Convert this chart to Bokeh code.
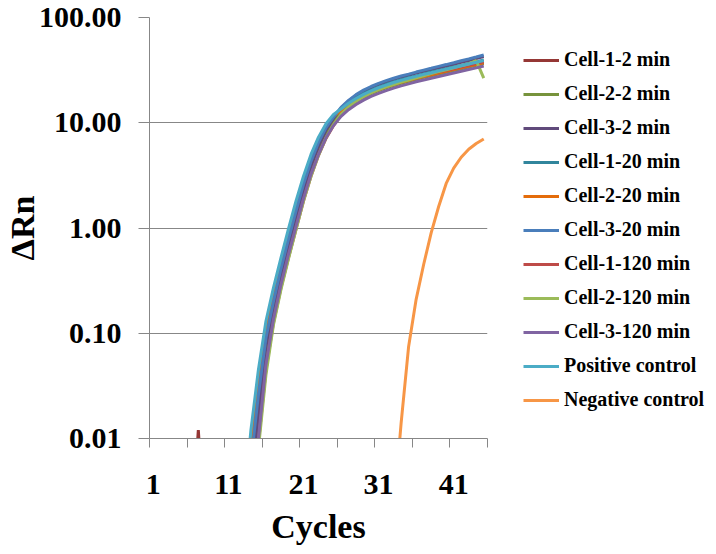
from bokeh.plotting import figure
from bokeh.models import (ColumnDataSource, Legend, LegendItem, FixedTicker,
                          PrintfTickFormatter, Range1d)
from bokeh.embed import file_html
from bokeh.resources import INLINE

N = None
cycles = list(range(1, 46))

series_names = ["Cell-1-2 min", "Cell-2-2 min", "Cell-3-2 min", "Cell-1-20 min",
                "Cell-2-20 min", "Cell-3-20 min", "Cell-1-120 min", "Cell-2-120 min",
                "Cell-3-120 min", "Positive control", "Negative control"]
series_colors = ["#953735", "#77933C", "#604A7B", "#31859C", "#E46C0A", "#4A7EBB",
                 "#BE4B48", "#9BBB59", "#8064A2", "#4BACC6", "#F79646"]

# values for cycles 1..45 (None = below the visible axis range)
cell_1_2 = [N, N, N, N, N, 0.001, 0.012, 0.001, N, N, N, N, N, 0.003, 0.011, 0.058, 0.15, 0.31, 0.6, 1.1,
            2.05, 3.5, 5.4, 7.7, 10.0, 12.4, 14.4, 16.2, 17.8, 19.2, 20.6, 21.9, 23.1, 24.2, 25.3,
            26.4, 27.5, 28.6, 29.7, 30.8, 32.0, 33.2, 34.5, 35.8, 37.2]
cell_2_2 = [N, N, N, N, N, N, N, N, N, N, N, N, N, 0.003, 0.013, 0.065, 0.16, 0.33, 0.63, 1.17,
            2.15, 3.65, 5.6, 7.9, 10.2, 12.4, 14.2, 16.0, 17.5, 18.9, 20.2, 21.5, 22.6, 23.7, 24.8,
            25.9, 27.0, 28.0, 29.1, 30.2, 31.4, 32.5, 33.8, 35.1, 36.5]
cell_3_2 = [N, N, N, N, N, N, N, N, N, N, N, N, N, 0.004, 0.017, 0.075, 0.18, 0.36, 0.69, 1.28,
            2.3, 3.9, 6.0, 8.5, 11.0, 13.8, 16.1, 18.2, 20.0, 21.6, 23.1, 24.5, 25.8, 27.1, 28.3,
            29.6, 30.8, 32.0, 33.3, 34.6, 36.0, 37.5, 39.1, 40.8, 42.6]
cell_1_20 = [N, N, N, N, N, N, N, N, N, N, N, N, N, 0.007, 0.03, 0.1, 0.22, 0.44, 0.83, 1.55,
             2.7, 4.4, 6.7, 9.1, 11.4, 13.4, 15.3, 17.2, 18.9, 20.4, 21.8, 23.2, 24.4, 25.6, 26.8,
             27.9, 29.1, 30.3, 31.4, 32.6, 33.9, 35.1, 36.5, 37.9, 39.4]
cell_2_20 = [N, N, N, N, N, N, N, N, N, N, N, N, N, 0.008, 0.035, 0.11, 0.24, 0.47, 0.88, 1.62,
             2.85, 4.6, 6.9, 9.3, 11.6, 13.0, 14.8, 16.5, 18.0, 19.4, 20.7, 21.9, 23.1, 24.2, 25.3,
             26.4, 27.5, 28.6, 29.7, 30.8, 32.0, 33.2, 34.5, 35.8, 37.2]
cell_3_20 = [N, N, N, N, N, N, N, N, N, N, N, N, N, 0.006, 0.026, 0.09, 0.2, 0.41, 0.78, 1.45,
             2.6, 4.3, 6.5, 9.0, 11.4, 14.0, 16.3, 18.5, 20.4, 22.1, 23.7, 25.1, 26.5, 27.8, 29.0,
             30.3, 31.6, 32.9, 34.3, 35.7, 37.2, 38.8, 40.4, 42.1, 44.0]
cell_1_120 = [N, N, N, N, N, N, N, N, N, N, N, N, N, 0.002, 0.009, 0.045, 0.125, 0.27, 0.52, 0.97,
              1.8, 3.1, 4.9, 7.1, 9.4, 11.8, 13.9, 15.9, 17.7, 19.3, 20.8, 22.2, 23.5, 24.7, 25.8,
              26.9, 28.0, 29.2, 30.3, 31.4, 32.6, 33.9, 35.2, 36.6, 38.0]
cell_2_120 = [N, N, N, N, N, N, N, N, N, N, N, N, N, 0.002, 0.008, 0.04, 0.12, 0.26, 0.51, 0.96,
              1.8, 3.1, 4.9, 7.2, 9.6, 12.0, 14.1, 16.0, 17.7, 19.2, 20.6, 21.9, 23.1, 24.3, 25.5,
              26.7, 28.0, 29.3, 30.6, 31.9, 33.3, 34.7, 36.2, 39.0, 26.5]
cell_3_120 = [N, N, N, N, N, N, N, N, N, N, N, N, N, 0.002, 0.01, 0.05, 0.135, 0.29, 0.56, 1.03,
              1.9, 3.25, 5.0, 7.2, 9.4, 11.5, 13.3, 14.9, 16.4, 17.8, 19.0, 20.2, 21.3, 22.4, 23.4,
              24.5, 25.5, 26.5, 27.5, 28.6, 29.7, 30.8, 32.0, 33.2, 34.6]
positive = [N, N, N, N, N, N, N, N, N, N, N, N, 0.002, 0.012, 0.045, 0.13, 0.27, 0.52, 0.98, 1.8,
            3.1, 5.0, 7.3, 9.8, 12.0, 13.5, 15.3, 17.0, 18.6, 20.1, 21.5, 22.8, 24.1, 25.3, 26.5,
            27.6, 28.8, 29.9, 31.1, 32.3, 33.5, 34.8, 36.1, 37.5, 39.0]
negative = [N, N, N, N, N, N, N, N, N, N, N, N, N, N, N, N, N, N, N, N,
            N, N, N, N, N, N, N, N, N, N, N, N, 0.002, 0.014, 0.075, 0.21, 0.45, 0.9, 1.6, 2.65,
            3.7, 4.7, 5.6, 6.35, 7.0]

series_values = [cell_1_2, cell_2_2, cell_3_2, cell_1_20, cell_2_20, cell_3_20,
                 cell_1_120, cell_2_120, cell_3_120, positive, negative]

x_tick_values = [1, 11, 21, 31, 41]
y_tick_values = [0.01, 0.1, 1, 10, 100]
x_title = "Cycles"
y_title = "\u0394Rn"

FONT = "Liberation Serif"
GRAY = "#878787"

p = figure(frame_width=338, frame_height=421, y_axis_type="log",
           x_range=Range1d(0.5, 45.5), y_range=Range1d(0.01, 100),
           output_backend="svg", toolbar_location=None,
           min_border_left=148, min_border_top=17, min_border_right=0, min_border_bottom=114)
p.outline_line_color = None
p.background_fill_color = "white"
p.border_fill_color = "white"

p.xgrid.visible = False
p.ygrid.ticker = FixedTicker(ticks=y_tick_values)
p.ygrid.grid_line_color = GRAY
p.ygrid.grid_line_width = 1

xa = p.xaxis[0]
xa.ticker = FixedTicker(ticks=x_tick_values,
                        minor_ticks=[0.5 + 5 * k for k in range(10)])
xa.axis_line_color = GRAY
xa.major_tick_line_color = None
xa.major_tick_out = 0
xa.major_tick_in = 0
xa.minor_tick_line_color = GRAY
xa.minor_tick_out = 9
xa.minor_tick_in = 0
xa.major_label_standoff = 27
xa.major_label_text_font = FONT
xa.major_label_text_font_style = "bold"
xa.major_label_text_font_size = "30px"
xa.major_label_text_color = "black"
xa.axis_label = x_title
xa.axis_label_standoff = 11
xa.axis_label_text_font = FONT
xa.axis_label_text_font_style = "bold"
xa.axis_label_text_font_size = "34px"
xa.axis_label_text_color = "black"

ya = p.yaxis[0]
ya.ticker = FixedTicker(ticks=y_tick_values, minor_ticks=[])
ya.formatter = PrintfTickFormatter(format="%.2f")
ya.axis_line_color = GRAY
ya.major_tick_line_color = GRAY
ya.major_tick_out = 11
ya.major_tick_in = 0
ya.minor_tick_line_color = None
ya.major_label_standoff = 17
ya.major_label_text_font = FONT
ya.major_label_text_font_style = "bold"
ya.major_label_text_font_size = "30px"
ya.major_label_text_color = "black"
ya.axis_label = y_title
ya.axis_label_standoff = -5
ya.axis_label_text_font = FONT
ya.axis_label_text_font_style = "bold"
ya.axis_label_text_font_size = "34px"
ya.axis_label_text_color = "black"

items = []
for name, color, vals in zip(series_names, series_colors, series_values):
    ys = [float("nan") if v is None else v for v in vals]
    src = ColumnDataSource(dict(x=cycles, y=ys))
    r = p.line("x", "y", source=src, line_color=color, line_width=3)
    items.append(LegendItem(label=name, renderers=[r]))

legend = Legend(items=items, location=(36, 27), orientation="vertical")
legend.border_line_color = None
legend.background_fill_alpha = 0
legend.margin = 18
legend.padding = 0
legend.spacing = 11
legend.glyph_width = 36
legend.glyph_height = 20
legend.label_height = 20
legend.label_standoff = 5
legend.label_text_font = FONT
legend.label_text_font_style = "bold"
legend.label_text_font_size = "20px"
legend.label_text_color = "black"
p.add_layout(legend, "right")

open("out.html", "w").write(file_html(p, INLINE))
